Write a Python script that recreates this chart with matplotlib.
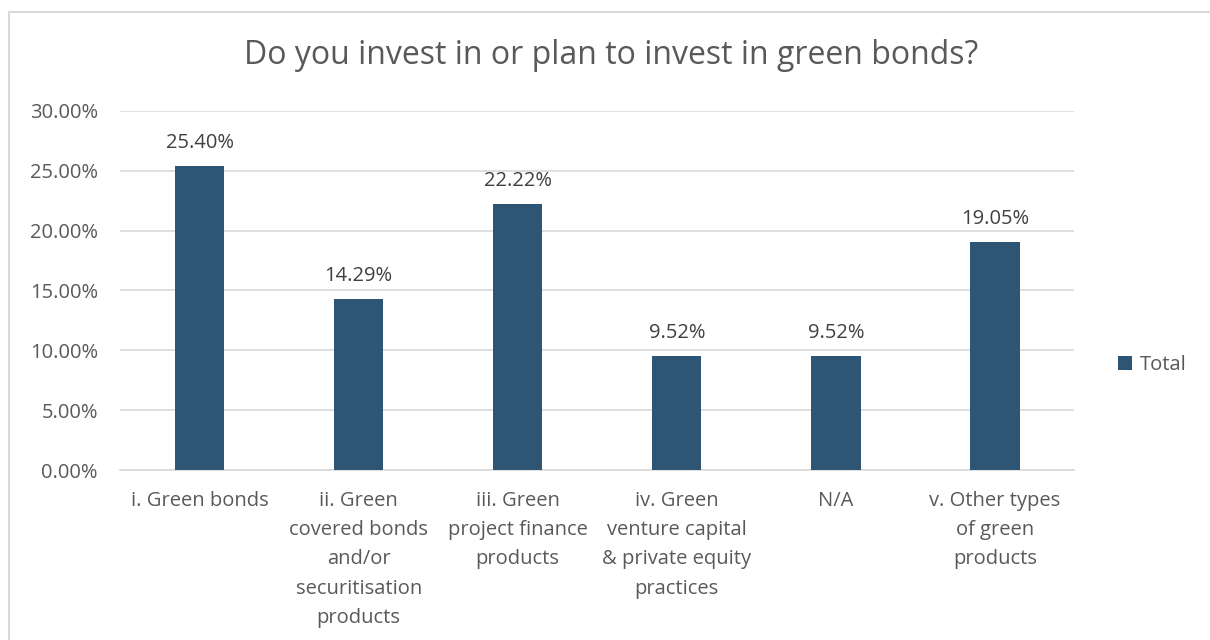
import matplotlib
matplotlib.use("Agg")
import matplotlib.pyplot as plt
from matplotlib.patches import Rectangle
from matplotlib.ticker import FuncFormatter

categories = [
    "i. Green bonds",
    "ii. Green\ncovered bonds\nand/or\nsecuritisation\nproducts",
    "iii. Green\nproject finance\nproducts",
    "iv. Green\nventure capital\n& private equity\npractices",
    "N/A",
    "v. Other types\nof green\nproducts",
]
totals = [25.40, 14.29, 22.22, 9.52, 9.52, 19.05]

bar_color = "#2E5573"
text_color = "#595959"
grid_color = "#D9D9D9"

plt.rcParams["font.family"] = ["Open Sans", "DejaVu Sans"]

fig = plt.figure(figsize=(12.1, 6.4), dpi=100)
ax = fig.add_axes([0.0992, 0.2656, 0.7888, 0.561])

# chart frame (only left and top edges show in the crop)
fig.patches.append(Rectangle((9 / 1210, -0.1), 1.2, 1.1 - 12 / 640,
                             transform=fig.transFigure, fill=False,
                             edgecolor="#D9D9D9", linewidth=1.5))

x = range(len(categories))
bars = ax.bar(x, totals, width=0.31, color=bar_color, label="Total", zorder=3)

for rect, val in zip(bars, totals):
    ax.text(rect.get_x() + rect.get_width() / 2, val + 1.1, f"{val:.2f}%",
            ha="center", va="bottom", fontsize=14.5, color="#404040")

ax.set_ylim(0, 30)
ax.set_xlim(-0.5, len(categories) - 0.5)
ax.set_yticks([0, 5, 10, 15, 20, 25, 30])
ax.yaxis.set_major_formatter(FuncFormatter(lambda v, p: f"{v:.2f}%"))
ax.set_xticks(list(x))
ax.set_xticklabels(categories, fontsize=14.5, color=text_color, linespacing=1.62)
ax.tick_params(axis="y", labelsize=14.5, labelcolor=text_color, length=0, pad=16)
ax.tick_params(axis="x", length=0, pad=15)
ax.grid(axis="y", color=grid_color, linewidth=1.2, zorder=0)
for s in ["top", "right", "left"]:
    ax.spines[s].set_visible(False)
ax.spines["bottom"].set_color(grid_color)
ax.spines["bottom"].set_linewidth(1.2)

fig.text(0.505, 0.913, "Do you invest in or plan to invest in green bonds?",
         ha="center", va="center", fontsize=23, color=text_color)

fig.legend(handles=[bars], labels=["Total"], loc="center left",
           bbox_to_anchor=(0.909, 0.43), frameon=False, fontsize=14.5,
           labelcolor=text_color, handlelength=0.7, handleheight=0.7,
           handletextpad=0.4)

fig.savefig("out.png", dpi=100, facecolor="white")
